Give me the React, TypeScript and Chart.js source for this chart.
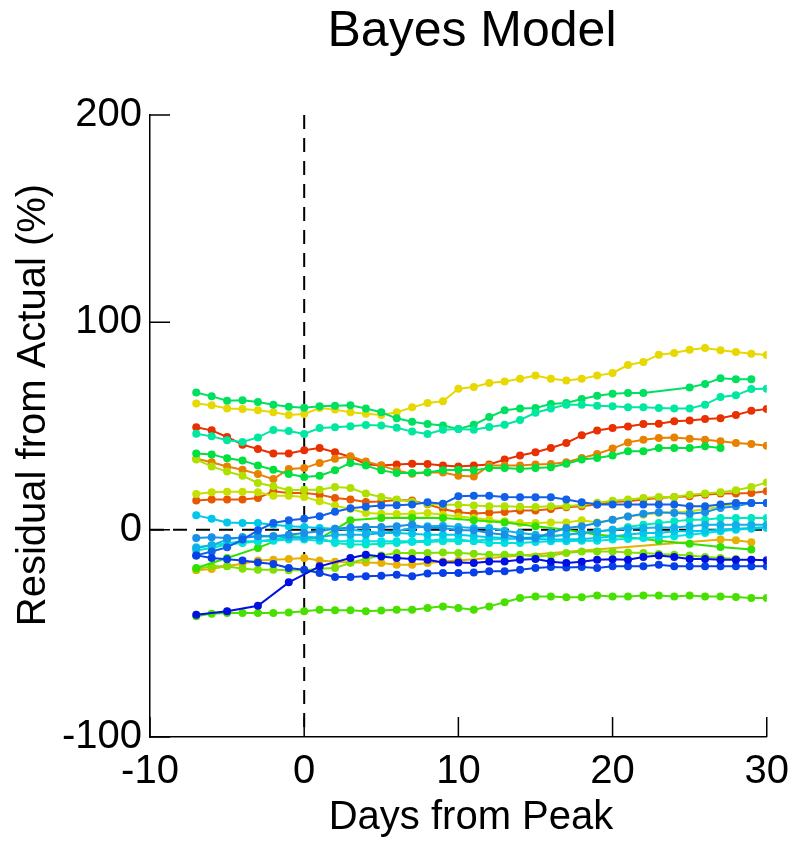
import { useEffect, useRef } from "react";
import { Chart, registerables } from "chart.js";

Chart.register(...registerables);

// Days relative to the peak (x values shared by every run)
const days = [
  -7, -6, -5, -4, -3, -2, -1, 0, 1, 2, 3, 4, 5, 6, 7, 8, 9, 10, 11, 12,
  13, 14, 15, 16, 17, 18, 19, 20, 21, 22, 23, 24, 25, 26, 27, 28, 29, 30,
];

const xTicks = [-10, 0, 10, 20, 30];
const yTicks = [-100, 0, 100, 200];

// Residual (%) per run, one value per day; null = no forecast that day
const runYellow = [
  60.9, 60.0, 58.4, 58.2, 57.6, 56.6, 55.3, 55.8,
  58.7, 57.9, 56.6, 55.9, 55.3, 56.6, 59.0, 61.1, 61.9, 68.0,
  68.8, 70.7, 71.5, 72.8, 74.3, 72.8, 72.0, 72.8, 74.3, 75.6,
  79.4, 80.9, 84.4, 85.2, 86.8, 87.6, 86.5, 85.7, 84.9, 84.2,
];
const runGreenTop = [
  66.2, 64.3, 62.2, 62.4, 61.6, 60.3, 59.3, 58.8,
  59.5, 59.8, 60.0, 58.4, 56.6, 53.7, 52.1, 51.0, 50.2, 48.6,
  50.6, 54.3, 57.6, 58.4, 58.7, 60.6, 61.1, 63.0, 64.6, 65.6,
  65.9, 65.9, null, null, 68.6, 70.3, 73.0, 72.5, 72.5, null,
];
const runTealTop = [
  46.3, 45.0, 43.1, 42.3, 44.5, 48.1, 47.6, 46.2,
  49.0, 49.4, 49.9, 50.5, 50.2, 49.2, 47.3, 46.1, 48.2, 48.6,
  48.2, 49.5, 50.6, 52.9, 56.4, 58.4, 60.3, 60.3, 59.8, 59.5,
  59.0, 59.0, 58.7, 58.4, 58.4, 60.3, 64.0, 64.8, 67.8, 68.0,
];
const runRed = [
  49.4, 47.9, 44.7, 41.0, 38.9, 36.7, 36.7, 38.3,
  39.4, 37.3, 35.1, 31.6, 30.9, 31.4, 31.8, 31.7, 31.0, 30.5,
  30.9, 31.4, 33.8, 35.8, 37.3, 39.4, 41.8, 45.5, 47.8, 49.0,
  49.8, 51.0, 51.1, 52.3, 52.6, 53.4, 53.7, 55.3, 57.3, 58.2,
];
const runGreenMid = [
  36.7, 36.3, 34.4, 33.4, 30.9, 28.9, 26.8, 25.4,
  26.0, 28.6, 32.2, 30.9, 28.6, 27.3, 27.3, 27.7, 28.6, 28.9,
  28.6, 29.7, 29.7, 29.3, 29.7, 30.1, 31.8, 33.8, 34.6, 35.8,
  37.8, 37.8, 39.4, 39.4, 39.4, 40.2, 39.4, null, null, null,
];
const runOrange = [
  34.2, 32.5, 30.5, 28.9, 26.8, 24.4, 29.3, 29.7,
  32.2, 34.2, 35.4, 32.9, 30.9, 28.6, 27.0, 27.6, 27.6, 26.0,
  25.7, 30.9, 30.9, 30.9, 31.4, 31.7, 32.5, 34.6, 36.5, 39.1,
  42.1, 43.4, 44.2, 44.5, 43.9, 43.4, 42.6, 41.8, 41.3, 40.5,
];
const runLime = [
  33.8, 30.5, 28.0, 26.0, 22.5, 20.9, 19.0, 19.3,
  19.3, 20.6, 20.1, 17.4, 15.8, 14.5, 13.5, 12.5, 12.0, 12.0,
  11.6, 11.3, 11.3, 11.0, 10.9, 11.3, 11.3, 12.0, 13.0, 14.0,
  14.5, 15.3, 15.8, 15.8, 16.9, 17.4, 18.0, 19.0, 20.6, 22.8,
];
const runLimeFlat = [
  17.2, 18.0, 18.3, 18.3, 18.0, 16.4, 16.4, 15.8,
  13.7, 11.6, 10.0, 8.0, 7.7, 7.5, 7.7, 8.0, 7.2, 6.4,
  5.6, 4.8, 4.0, 3.2, 3.2, 3.5, 3.5, 4.5, 3.5, 4.8,
  6.4, 7.2, 8.0, 8.4, 8.8, 10.0, 10.9, 12.9, null, null,
];
const runOrangeRed = [
  14.1, 14.5, 14.5, 14.5, 15.3, 18.5, 17.7, 17.7,
  16.9, 15.3, 14.5, 13.3, 13.6, 14.3, 14.1, 12.2, 10.0, 8.4,
  7.8, 8.2, 8.5, 9.2, 9.3, 10.0, 10.8, 11.3, 12.1, 13.3,
  13.7, 14.5, 15.3, 15.8, 16.1, 16.9, 17.4, 17.4, 17.7, 18.5,
];
const runBlueRise = [
  -12.4, -10.5, -8.5, -4.8, -0.3, 3.2, 4.5, 5.3,
  6.5, 8.6, 10.3, 11.1, 11.6, 11.8, 12.1, 13.2, 12.5, 16.1,
  16.4, 16.4, 15.8, 15.6, 15.6, 15.6, 14.5, 13.2, 12.1, 12.1,
  12.1, 12.1, 12.1, 12.1, 11.3, 11.3, 12.1, 12.9, 12.9, 12.9,
];
const runGreenAlt = [
  -18.5, null, -13.7, null, -8.8, null, -3.0, null,
  -4.3, null, 4.5, null, 5.6, null, 5.8, null, 5.6, null,
  4.5, null, 3.5, null, 1.6, null, 0.0, null, -2.4, null,
  -3.7, null, -5.3, null, -6.8, null, -8.4, null, -9.6, null,
];
const runAmber = [
  -19.6, -19.0, -17.5, -16.4, -14.9, -14.5, -14.1, -13.7,
  -14.9, -15.5, -15.8, -15.8, -16.1, -16.9, -16.9, -16.1, -15.3, -14.9,
  null, null, null, null, null, null, null, null, null, null,
  null, null, null, null, null, null, -4.8, -5.1, -6.1, null,
];
const runYellowGreen = [
  -19.0, -17.7, -17.7, -18.8, -19.3, -19.3, -19.6, -19.6,
  -18.8, -18.5, -16.0, -14.0, -12.5, -11.3, -11.3, -11.3, -11.0, -11.3,
  -11.6, -12.1, -12.1, -12.1, -12.9, -12.5, -11.3, -10.5, -10.5, -10.5,
  -11.0, -11.3, -11.7, -12.1, -12.5, -13.2, -13.7, -14.1, null, null,
];
const runGreenLow = [
  -41.8, -40.5, -40.2, -40.2, -40.2, -40.2, -39.9, -39.4,
  -38.6, -38.9, -38.9, -39.4, -39.0, -38.6, -38.6, -37.8, -37.0, -37.8,
  -38.6, -37.0, -35.0, -33.0, -32.2, -32.2, -32.6, -32.6, -31.8, -32.2,
  -32.2, -31.8, -31.8, -32.2, -31.8, -32.2, -32.2, -32.5, -33.0, -33.0,
];
const runDeepBlue = [
  -41.0, null, -39.4, null, -36.7, null, -25.4, null,
  -17.7, null, -13.7, -12.1, -12.9, -13.7, -14.1, -14.5, -15.8, -15.8,
  -16.1, -15.3, -15.3, -14.5, -14.1, -15.5, -16.1, -15.5, -14.5, -14.3,
  -14.5, -13.2, -12.5, -13.2, -14.1, -14.1, -14.5, -14.5, -14.5, -14.8,
];
const runNavy = [
  -12.4, -13.7, -14.3, -14.9, -15.8, -16.6, -18.5, -19.3,
  -20.9, -22.8, -22.8, -22.5, -22.2, -21.7, -22.5, -21.2, -20.9, -20.9,
  -20.6, -20.1, -20.1, -19.3, -18.5, -18.0, -18.3, -18.0, -18.5, -17.7,
  -17.7, -17.7, -16.9, -17.7, -17.7, -17.7, -17.7, -17.7, -17.7, -17.7,
];
const runBlue = [
  -4.0, -3.7, -4.0, -4.0, -3.2, -3.2, -2.4, -1.6,
  -0.8, 0.5, 1.0, 1.3, 1.3, 1.6, 2.5, 0.8, 0.8, -0.3,
  -0.3, -1.6, -2.4, -4.0, -4.0, -1.5, 0.8, 1.6, 3.2, 4.8,
  6.4, 7.7, 8.4, 8.0, 7.7, 8.4, 10.5, 11.3, 12.9, 12.9,
];
const runSky = [
  -8.8, -7.5, -4.8, -3.5, -3.0, -3.2, -3.7, -4.0,
  -3.7, -2.4, -2.4, -2.4, -1.6, -0.8, 0.8, 1.6, 1.9, 1.3,
  0.8, 0.8, -0.5, -1.6, -2.4, -3.2, -2.4, -1.6, -1.0, 0.0,
  0.5, 0.8, 1.0, 1.0, 1.6, 2.4, 2.4, 2.4, 2.4, 2.4,
];
const runCyan = [
  6.9, 5.3, 3.5, 3.2, 3.2, 2.4, 1.6, 1.3,
  0.8, 0.5, 0.0, -0.8, -1.6, -1.6, -2.0, -2.4, -2.4, -2.4,
  -3.0, -3.7, -4.0, -4.5, -4.5, -4.8, -4.8, -4.5, -4.0, -3.2,
  -2.4, -1.6, -1.6, -0.8, -0.8, -0.5, 0.0, 0.5, 0.8, 1.3,
];
const runAqua = [
  -8.5, -7.5, -6.5, -5.6, -5.6, -5.3, -4.8, -4.8,
  -5.3, -5.6, -5.6, -5.6, -5.6, -5.6, -5.6, -5.3, -4.8, -4.8,
  -5.6, -6.4, -6.4, -6.4, -6.0, -5.6, -5.6, -5.3, -5.3, -4.8,
  -4.5, -4.0, -3.7, -3.2, -2.4, -1.6, -0.8, 0.0, 0.5, 0.8,
];
const runTeal = [
  -10.0, -8.8, -7.2, -6.4, -5.6, -4.8, -4.0, -3.2,
  -4.0, -6.4, -7.2, -7.2, -6.8, -6.4, -6.0, -6.0, -5.6, -5.6,
  -5.3, -4.8, -4.5, -4.0, -3.7, -3.2, -2.4, -1.6, -0.8, 0.0,
  1.3, 2.4, 3.2, 4.0, 4.8, 4.8, 5.6, 5.6, 5.6, 5.6,
];

const runs: { label: string; color: string; values: (number | null)[] }[] = [
  { label: "run 1", color: "#0010e0", values: runDeepBlue },
  { label: "run 2", color: "#0840e8", values: runNavy },
  { label: "run 3", color: "#1060e8", values: runBlueRise },
  { label: "run 4", color: "#1890e8", values: runBlue },
  { label: "run 5", color: "#10b0e8", values: runSky },
  { label: "run 6", color: "#00c8e8", values: runCyan },
  { label: "run 7", color: "#00e0e0", values: runAqua },
  { label: "run 8", color: "#00e8c0", values: runTeal },
  { label: "run 9", color: "#00e8a0", values: runTealTop },
  { label: "run 10", color: "#00e060", values: runGreenTop },
  { label: "run 11", color: "#00e040", values: runGreenMid },
  { label: "run 12", color: "#30e000", values: runGreenAlt },
  { label: "run 13", color: "#48e000", values: runGreenLow },
  { label: "run 14", color: "#80e000", values: runYellowGreen },
  { label: "run 15", color: "#b0e000", values: runLime },
  { label: "run 16", color: "#c8e000", values: runLimeFlat },
  { label: "run 17", color: "#e6d800", values: runYellow },
  { label: "run 18", color: "#e8b000", values: runAmber },
  { label: "run 19", color: "#e88000", values: runOrange },
  { label: "run 20", color: "#e85800", values: runOrangeRed },
  { label: "run 21", color: "#e83000", values: runRed },
];

const FONT = "'Liberation Sans', Arial, sans-serif";

// Peak markers, inward ticks and the titles
const framePlugin = {
  id: "frame",
  beforeDatasetsDraw(chart: any) {
    const { ctx, chartArea: a, scales } = chart;
    const x0 = scales.x.getPixelForValue(0);
    const y0 = scales.y.getPixelForValue(0);
    ctx.save();
    ctx.strokeStyle = "#000";
    ctx.lineWidth = 2;
    ctx.setLineDash([14, 9]);
    ctx.beginPath();
    ctx.moveTo(x0, a.top);
    ctx.lineTo(x0, a.bottom);
    ctx.stroke();
    ctx.beginPath();
    ctx.moveTo(a.left, y0);
    ctx.lineTo(a.right, y0);
    ctx.stroke();
    ctx.restore();
  },
  afterDraw(chart: any) {
    const { ctx, chartArea: a, scales } = chart;
    ctx.save();
    ctx.strokeStyle = "#000";
    ctx.lineWidth = 1.5;
    ctx.beginPath();
    for (const v of xTicks) {
      const px = scales.x.getPixelForValue(v);
      ctx.moveTo(px, a.bottom);
      ctx.lineTo(px, a.bottom - 20);
    }
    for (const v of yTicks) {
      const py = scales.y.getPixelForValue(v);
      ctx.moveTo(a.left, py);
      ctx.lineTo(a.left + 20, py);
    }
    ctx.stroke();

    ctx.fillStyle = "#000";
    ctx.textAlign = "center";
    ctx.textBaseline = "alphabetic";
    ctx.font = `50px ${FONT}`;
    ctx.fillText("Bayes Model", 472, 46);

    ctx.font = `40px ${FONT}`;
    ctx.fillText("Days from Peak", 471, 829);

    ctx.translate(45, 405);
    ctx.rotate(-Math.PI / 2);
    ctx.fillText("Residual from Actual (%)", 0, 0);
    ctx.restore();
  },
};

export default function App() {
  const canvasRef = useRef<HTMLCanvasElement | null>(null);

  useEffect(() => {
    const canvas = canvasRef.current;
    if (!canvas) return;

    const datasets = runs.map((r) => ({
      label: r.label,
      data: days
        .map((d, i) => ({ x: d, y: r.values[i] }))
        .filter((p) => p.y !== null),
      borderColor: r.color,
      backgroundColor: r.color,
      pointBackgroundColor: r.color,
      pointBorderWidth: 0,
      pointRadius: 4,
      borderWidth: 2,
      tension: 0,
    }));

    const chart = new Chart(canvas, {
      type: "line",
      data: { datasets },
      options: {
        responsive: false,
        animation: false,
        layout: { padding: { left: 0, right: 29, top: 115, bottom: 0 } },
        plugins: {
          legend: { display: false },
          title: { display: false },
          tooltip: { enabled: false },
        },
        scales: {
          x: {
            type: "linear",
            min: -10,
            max: 30,
            afterBuildTicks: (s: any) => {
              s.ticks = xTicks.map((v) => ({ value: v }));
            },
            afterFit: (s: any) => {
              s.height = 108;
            },
            grid: { display: false, drawTicks: false },
            border: { display: true, color: "#000", width: 1.5 },
            ticks: {
              color: "#000",
              padding: 11,
              font: { family: FONT, size: 40 },
              maxRotation: 0,
            },
          },
          y: {
            type: "linear",
            min: -100,
            max: 200,
            afterBuildTicks: (s: any) => {
              s.ticks = yTicks.map((v) => ({ value: v }));
            },
            afterFit: (s: any) => {
              s.width = 150;
            },
            grid: { display: false, drawTicks: false },
            border: { display: true, color: "#000", width: 1.5 },
            ticks: {
              color: "#000",
              padding: 8,
              font: { family: FONT, size: 40 },
            },
          },
        },
      },
      plugins: [framePlugin],
    });

    return () => chart.destroy();
  }, []);

  return (
    <div style={{ position: "fixed", left: 0, top: 0, width: 800, height: 845, background: "#fff" }}>
      <canvas ref={canvasRef} width={800} height={845} style={{ width: 800, height: 845, display: "block" }} />
    </div>
  );
}
